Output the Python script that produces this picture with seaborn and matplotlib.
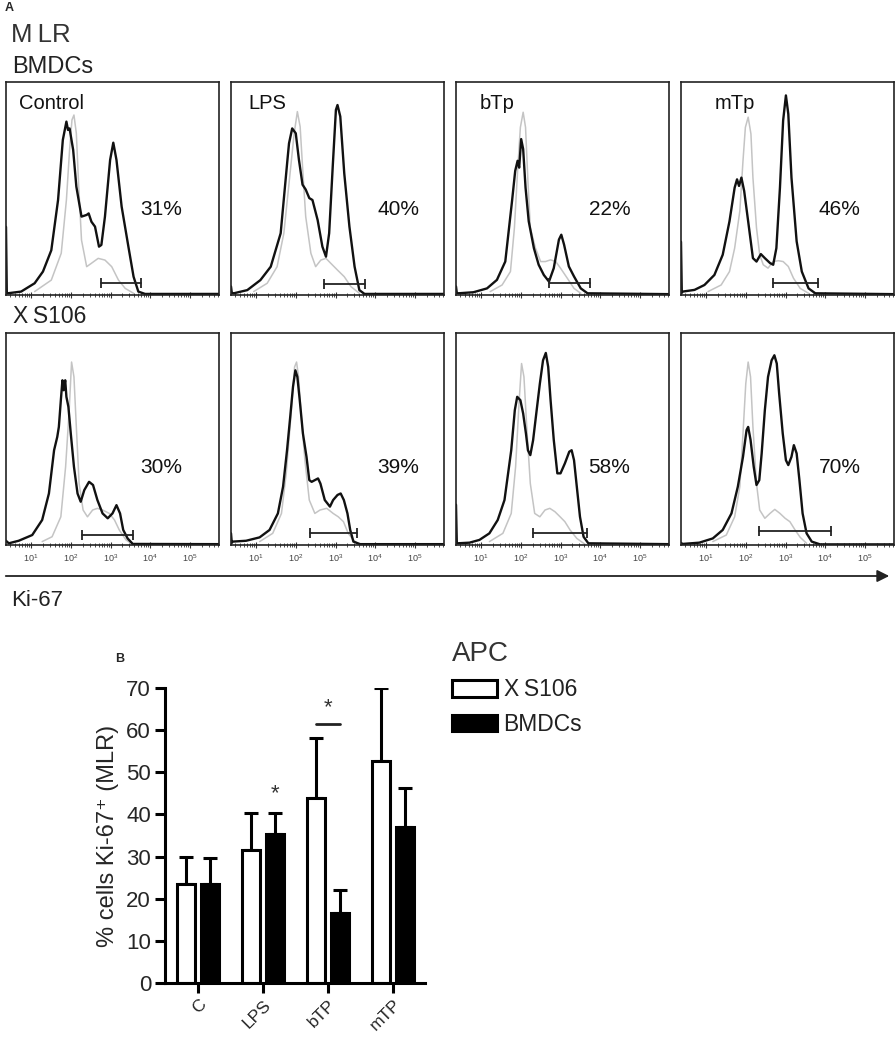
import numpy as np
import pandas as pd
import matplotlib
matplotlib.use('Agg')
import matplotlib.pyplot as plt
from matplotlib.patches import Patch
import seaborn as sns

# ---- A: Ki-67 histograms, points are (log10 intensity, fraction of max height)
conditions = ['Control', 'LPS', 'bTp', 'mTp']
pct_bmdc = ['31%', '40%', '22%', '46%']
pct_xs106 = ['30%', '39%', '58%', '70%']

bm_control_ki67 = [(0.37, 0.32), (0.39, 0.01), (0.41, 0.008), (0.75, 0.016), (1.09, 0.055), (1.30, 0.11), (1.51, 0.21),
                   (1.68, 0.446), (1.80, 0.728), (1.89, 0.814), (1.93, 0.775), (1.97, 0.782), (2.06, 0.681), (2.14, 0.509),
                   (2.27, 0.368), (2.40, 0.376), (2.45, 0.383), (2.52, 0.344), (2.61, 0.321), (2.71, 0.227), (2.77, 0.235),
                   (2.86, 0.368), (2.99, 0.634), (3.07, 0.715), (3.15, 0.634), (3.28, 0.415), (3.45, 0.227), (3.58, 0.086),
                   (3.70, 0.016), (3.87, 0.005), (5.73, 0.005)]
bm_control_iso = [(1.09, 0.016), (1.51, 0.07), (1.76, 0.196), (1.89, 0.446), (1.97, 0.681), (2.03, 0.822), (2.08, 0.845),
                  (2.14, 0.759), (2.20, 0.509), (2.27, 0.258), (2.40, 0.133), (2.52, 0.149), (2.69, 0.172), (2.86, 0.164),
                  (3.03, 0.133), (3.20, 0.07), (3.37, 0.031), (3.58, 0.008)]
bm_lps_ki67 = [(0.37, 0.04), (0.39, 0.01), (0.44, 0.008), (0.78, 0.023), (1.11, 0.07), (1.37, 0.133), (1.62, 0.29),
               (1.79, 0.634), (1.83, 0.712), (1.91, 0.782), (2.00, 0.759), (2.08, 0.634), (2.17, 0.518), (2.25, 0.495),
               (2.34, 0.455), (2.42, 0.446), (2.55, 0.352), (2.67, 0.227), (2.76, 0.180), (2.84, 0.290), (2.93, 0.603),
               (3.01, 0.869), (3.05, 0.892), (3.12, 0.838), (3.22, 0.571), (3.35, 0.321), (3.48, 0.133), (3.60, 0.023),
               (3.73, 0.005), (5.73, 0.005)]
bm_lps_iso = [(0.94, 0.016), (1.28, 0.055), (1.53, 0.133), (1.70, 0.290), (1.83, 0.524), (1.96, 0.759), (2.04, 0.861),
              (2.11, 0.790), (2.17, 0.603), (2.25, 0.368), (2.38, 0.196), (2.50, 0.133), (2.63, 0.164), (2.76, 0.172),
              (2.88, 0.149), (3.05, 0.117), (3.22, 0.086), (3.39, 0.039), (3.60, 0.008)]
bm_btp_ki67 = [(0.37, 0.04), (0.39, 0.01), (0.43, 0.008), (0.81, 0.013), (1.15, 0.031), (1.40, 0.071), (1.61, 0.157),
               (1.78, 0.441), (1.86, 0.583), (1.92, 0.630), (1.96, 0.598), (2.01, 0.732), (2.06, 0.685), (2.12, 0.504),
               (2.20, 0.346), (2.33, 0.220), (2.45, 0.142), (2.58, 0.094), (2.71, 0.063), (2.83, 0.126), (2.96, 0.260),
               (3.02, 0.283), (3.09, 0.236), (3.21, 0.134), (3.34, 0.087), (3.51, 0.031), (3.68, 0.008), (5.73, 0.004)]
bm_btp_iso = [(1.23, 0.016), (1.53, 0.047), (1.74, 0.110), (1.84, 0.315), (1.92, 0.583), (1.99, 0.787), (2.06, 0.858),
              (2.12, 0.787), (2.18, 0.535), (2.24, 0.315), (2.37, 0.220), (2.50, 0.157), (2.62, 0.157), (2.75, 0.165),
              (2.88, 0.157), (3.00, 0.126), (3.17, 0.079), (3.34, 0.031), (3.51, 0.008)]
bm_mtp_ki67 = [(0.37, 0.25), (0.39, 0.01), (0.41, 0.016), (0.71, 0.024), (0.96, 0.047), (1.21, 0.094), (1.42, 0.189),
               (1.59, 0.346), (1.72, 0.504), (1.78, 0.543), (1.83, 0.512), (1.89, 0.551), (1.96, 0.488), (2.06, 0.346),
               (2.18, 0.173), (2.27, 0.157), (2.38, 0.192), (2.48, 0.173), (2.61, 0.150), (2.69, 0.142), (2.77, 0.220),
               (2.86, 0.504), (2.94, 0.819), (3.01, 0.937), (3.07, 0.850), (3.15, 0.551), (3.28, 0.252), (3.41, 0.110),
               (3.58, 0.031), (3.75, 0.008), (5.73, 0.004)]
bm_mtp_iso = [(1.05, 0.016), (1.38, 0.047), (1.59, 0.110), (1.72, 0.220), (1.85, 0.394), (1.93, 0.630), (1.99, 0.787),
              (2.06, 0.835), (2.13, 0.756), (2.18, 0.551), (2.27, 0.315), (2.35, 0.189), (2.44, 0.142), (2.56, 0.126),
              (2.69, 0.157), (2.82, 0.161), (2.94, 0.157), (3.07, 0.134), (3.20, 0.079), (3.37, 0.031), (3.58, 0.008)]

xs_control_ki67 = [(0.37, 0.02), (0.44, 0.008), (0.69, 0.020), (1.03, 0.047), (1.28, 0.118), (1.45, 0.243), (1.58, 0.447),
                   (1.66, 0.510), (1.70, 0.557), (1.75, 0.683), (1.79, 0.777), (1.82, 0.730), (1.86, 0.777), (1.89, 0.699),
                   (1.94, 0.652), (2.00, 0.526), (2.08, 0.369), (2.17, 0.243), (2.25, 0.204), (2.34, 0.259), (2.46, 0.298),
                   (2.56, 0.283), (2.67, 0.212), (2.80, 0.149), (2.93, 0.126), (3.05, 0.149), (3.15, 0.188), (3.24, 0.149),
                   (3.32, 0.071), (3.43, 0.031), (3.56, 0.005), (5.73, 0.004)]
xs_control_iso = [(1.28, 0.016), (1.53, 0.039), (1.75, 0.133), (1.87, 0.369), (1.96, 0.636), (2.02, 0.863), (2.08, 0.793),
                  (2.14, 0.557), (2.21, 0.290), (2.31, 0.165), (2.42, 0.133), (2.55, 0.165), (2.67, 0.173), (2.80, 0.165),
                  (2.97, 0.149), (3.10, 0.118), (3.22, 0.071), (3.39, 0.024), (3.56, 0.003)]
xs_lps_ki67 = [(0.37, 0.055), (0.39, 0.01), (0.41, 0.016), (0.75, 0.020), (1.09, 0.036), (1.34, 0.071), (1.55, 0.149),
               (1.68, 0.275), (1.78, 0.447), (1.86, 0.604), (1.93, 0.746), (1.99, 0.824), (2.04, 0.793), (2.10, 0.683),
               (2.18, 0.526), (2.27, 0.416), (2.34, 0.306), (2.40, 0.298), (2.48, 0.306), (2.56, 0.314), (2.62, 0.290),
               (2.73, 0.212), (2.86, 0.181), (2.94, 0.212), (3.05, 0.236), (3.13, 0.243), (3.21, 0.212), (3.30, 0.149),
               (3.37, 0.071), (3.45, 0.016), (3.62, 0.004), (5.73, 0.004)]
xs_lps_iso = [(1.09, 0.016), (1.42, 0.055), (1.64, 0.149), (1.76, 0.338), (1.89, 0.636), (1.97, 0.840), (2.02, 0.863),
              (2.07, 0.793), (2.14, 0.604), (2.23, 0.400), (2.34, 0.212), (2.48, 0.149), (2.61, 0.165), (2.78, 0.173),
              (2.94, 0.149), (3.07, 0.133), (3.20, 0.110), (3.32, 0.055), (3.45, 0.024), (3.58, 0.003)]
xs_btp_ki67 = [(0.37, 0.19), (0.39, 0.01), (0.41, 0.008), (0.71, 0.011), (0.96, 0.024), (1.21, 0.055), (1.42, 0.118),
               (1.59, 0.212), (1.76, 0.447), (1.85, 0.636), (1.91, 0.699), (1.99, 0.683), (2.06, 0.620), (2.13, 0.526),
               (2.18, 0.447), (2.24, 0.424), (2.31, 0.494), (2.40, 0.636), (2.48, 0.761), (2.56, 0.871), (2.63, 0.906),
               (2.69, 0.840), (2.75, 0.683), (2.83, 0.496), (2.92, 0.338), (3.00, 0.338), (3.11, 0.385), (3.22, 0.440),
               (3.28, 0.447), (3.34, 0.400), (3.41, 0.275), (3.49, 0.133), (3.58, 0.039), (3.70, 0.008), (5.73, 0.004)]
xs_btp_iso = [(1.21, 0.016), (1.55, 0.055), (1.76, 0.149), (1.87, 0.369), (1.96, 0.683), (2.02, 0.856), (2.08, 0.793),
              (2.16, 0.526), (2.24, 0.290), (2.35, 0.149), (2.48, 0.133), (2.61, 0.165), (2.73, 0.173), (2.86, 0.157),
              (2.99, 0.133), (3.11, 0.110), (3.24, 0.071), (3.41, 0.031), (3.62, 0.003)]
xs_mtp_ki67 = [(0.37, 0.01), (0.41, 0.005), (0.83, 0.011), (1.17, 0.031), (1.42, 0.071), (1.64, 0.149), (1.80, 0.275),
               (1.93, 0.416), (2.02, 0.542), (2.06, 0.557), (2.12, 0.496), (2.20, 0.369), (2.27, 0.283), (2.34, 0.306),
               (2.40, 0.432), (2.48, 0.636), (2.56, 0.793), (2.65, 0.871), (2.72, 0.895), (2.78, 0.856), (2.84, 0.714),
               (2.93, 0.526), (3.01, 0.400), (3.07, 0.377), (3.15, 0.416), (3.21, 0.471), (3.28, 0.432), (3.35, 0.306),
               (3.43, 0.149), (3.53, 0.055), (3.66, 0.016), (3.87, 0.003), (5.73, 0.003)]
xs_mtp_iso = [(1.17, 0.016), (1.51, 0.047), (1.72, 0.133), (1.85, 0.275), (1.93, 0.526), (2.00, 0.761), (2.06, 0.863),
              (2.12, 0.793), (2.18, 0.557), (2.27, 0.290), (2.35, 0.165), (2.48, 0.126), (2.61, 0.149), (2.73, 0.168),
              (2.86, 0.149), (2.99, 0.126), (3.11, 0.110), (3.24, 0.071), (3.37, 0.036), (3.53, 0.008)]

# gate markers (low log10, high log10, level)
gates_bmdc = [(2.77, 3.77, 0.058), (2.70, 3.75, 0.052), (2.71, 3.74, 0.055), (2.69, 3.83, 0.055)]
gates_xs106 = [(2.27, 3.56, 0.047), (2.35, 3.55, 0.055), (2.31, 3.66, 0.058), (2.34, 4.14, 0.068)]

# ---- B: % Ki-67+ cells
stimuli = ['C', 'LPS', 'bTP', 'mTP']
xs106_mean = [23.4, 31.5, 43.9, 52.7]
xs106_err = [6.5, 8.8, 14.2, 17.3]
bmdc_mean = [23.4, 35.3, 16.6, 37.0]
bmdc_err = [6.3, 5.0, 5.5, 9.3]

sns.set_theme(style='ticks')
plt.rcParams['font.family'] = ['Liberation Sans', 'DejaVu Sans']

W, H = 896, 1037
fig = plt.figure(figsize=(W / 100, H / 100), dpi=100)


def fx(px):
    return px / W


def fy(py):
    return 1 - py / H


# axes-fraction positions of the labels inside each panel
cond_x = [0.06, 0.08, 0.11, 0.16]
pct_x = [0.73, 0.785, 0.72, 0.745]
panel_left = [6, 231, 456, 681]
rows = [
    (82, 295, [bm_control_ki67, bm_lps_ki67, bm_btp_ki67, bm_mtp_ki67],
     [bm_control_iso, bm_lps_iso, bm_btp_iso, bm_mtp_iso], gates_bmdc, pct_bmdc, 0.40, True),
    (333, 545, [xs_control_ki67, xs_lps_ki67, xs_btp_ki67, xs_mtp_ki67],
     [xs_control_iso, xs_lps_iso, xs_btp_iso, xs_mtp_iso], gates_xs106, pct_xs106, 0.365, False),
]

for top, bottom, ki67s, isos, gates, pcts, pct_y, first_row in rows:
    for i in range(4):
        ax = fig.add_axes([fx(panel_left[i]), fy(bottom), fx(213), (bottom - top) / H])
        iso = pd.DataFrame(isos[i], columns=['logx', 'h'])
        ki = pd.DataFrame(ki67s[i], columns=['logx', 'h'])
        iso['x'] = 10 ** iso['logx']
        ki['x'] = 10 ** ki['logx']
        sns.lineplot(data=iso, x='x', y='h', sort=False, estimator=None, color='#c4c4c4', lw=1.1, ax=ax)
        sns.lineplot(data=ki, x='x', y='h', sort=False, estimator=None, color='#111111', lw=1.7, ax=ax)
        lo, hi, lv = gates[i]
        ax.plot([10 ** lo, 10 ** hi], [lv, lv], color='#222222', lw=1.3, marker='|', ms=7, mew=1.3)
        ax.set_xscale('log')
        ax.set_xlim(10 ** 0.37, 10 ** 5.73)
        ax.set_ylim(0, 1)
        ax.set_yticks([])
        ax.set_xlabel('')
        ax.set_ylabel('')
        ax.tick_params(axis='x', which='major', direction='inout', length=5, width=0.8, colors='#333333',
                       labelsize=6.5, labelcolor='#444444', pad=3)
        ax.tick_params(axis='x', which='minor', direction='inout', length=3, width=0.6, colors='#333333')
        ax.set_xticks([10, 100, 1000, 1e4, 1e5])
        if first_row:
            ax.set_xticklabels([])
            ax.text(cond_x[i], 0.90, conditions[i], transform=ax.transAxes, fontsize=14.5, va='center',
                    color='#111111')
        for sp in ax.spines.values():
            sp.set_color('#222222')
            sp.set_linewidth(1.2)
        ax.text(pct_x[i], pct_y, pcts[i], transform=ax.transAxes, fontsize=15, ha='center', va='center',
                color='#111111')

fig.text(fx(5), fy(2), 'A', fontsize=9, fontweight='bold', va='top')
fig.text(fx(11), fy(35), 'M\u2009LR', fontsize=18.5, va='center', color='#333333')
fig.text(fx(12), fy(67), 'BMDCs', fontsize=17, va='center', color='#222222')
fig.text(fx(13), fy(316), 'X\u2009S106', fontsize=16.5, va='center', color='#222222')
fig.text(fx(11), fy(600), 'Ki-67', fontsize=16, va='center', color='#222222')
fig.text(fx(115), fy(653), 'B', fontsize=9, fontweight='bold', va='top')

# ---- bar chart
df = pd.DataFrame({
    'stim': stimuli * 2,
    'pct': xs106_mean + bmdc_mean,
    'apc': ['XS106'] * 4 + ['BMDCs'] * 4,
})
bx = fig.add_axes([fx(165), fy(983), fx(260), 295 / H])
sns.barplot(data=df, x='stim', y='pct', hue='apc', order=stimuli, hue_order=['XS106', 'BMDCs'],
            palette={'XS106': 'white', 'BMDCs': 'black'}, edgecolor='black', linewidth=2.2,
            width=0.74, gap=0.25, errorbar=None, legend=False, ax=bx)

centers = {}
for cont, means, errs, name in zip(bx.containers, [xs106_mean, bmdc_mean], [xs106_err, bmdc_err], ['XS106', 'BMDCs']):
    xc = [p.get_x() + p.get_width() / 2 for p in cont]
    centers[name] = xc
    bx.errorbar(xc, means, yerr=[np.zeros(4), errs], fmt='none', ecolor='black', elinewidth=2.2,
                capsize=5, capthick=2.2, zorder=0)

# significance marks
bx.text(centers['BMDCs'][1], 44.9, '*', ha='center', va='center', fontsize=16, color='#333333')
bx.plot([centers['XS106'][2], centers['BMDCs'][2]], [61.5, 61.5], color='#222222', lw=2)
bx.text((centers['XS106'][2] + centers['BMDCs'][2]) / 2, 65.4, '*', ha='center', va='center', fontsize=16,
        color='#333333')

bx.set_xlim(-0.508, 3.49)
bx.set_ylim(0, 70)
bx.set_yticks(range(0, 71, 10))
bx.set_xlabel('')
bx.set_ylabel('% cells Ki-67\u207a (MLR)', fontsize=17, labelpad=5)
sns.despine(ax=bx)
for sp in ['left', 'bottom']:
    bx.spines[sp].set_linewidth(2.2)
    bx.spines[sp].set_color('black')
bx.tick_params(axis='y', width=2.2, length=7, color='black', labelsize=16, pad=3)
bx.tick_params(axis='x', width=2.2, length=7, color='black', labelsize=12.5, pad=3)
plt.setp(bx.get_xticklabels(), rotation=45, ha='right', rotation_mode='anchor')

handles = [Patch(facecolor='white', edgecolor='black', linewidth=2.2, label='X\u2009S106'),
           Patch(facecolor='black', edgecolor='black', linewidth=2.2, label='BMDCs')]
leg = bx.legend(handles=handles, title='APC', loc='upper left', bbox_to_anchor=(fx(452), fy(641)),
                bbox_transform=fig.transFigure, frameon=False, fontsize=16.5, title_fontsize=20,
                handlelength=1.95, handleheight=0.75, handletextpad=0.3, labelspacing=0.5,
                borderpad=0, borderaxespad=0, alignment='left')
for t in leg.get_texts():
    t.set_color('#222222')
leg.get_title().set_color('#333333')

# long Ki-67 arrow under the histograms
bx.annotate('', xy=(fx(892), fy(576)), xytext=(fx(3), fy(576)), xycoords='figure fraction',
            textcoords='figure fraction', annotation_clip=False,
            arrowprops=dict(arrowstyle='-|>', lw=1.3, color='#222222', mutation_scale=18))

fig.savefig('out.png', dpi=100)
